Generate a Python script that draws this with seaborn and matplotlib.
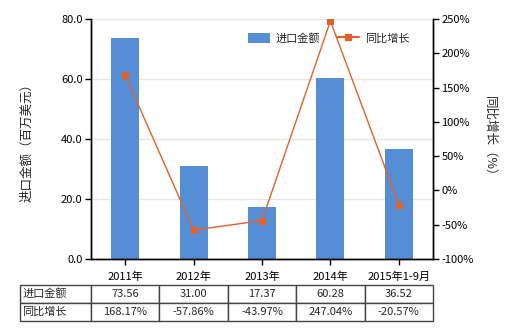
import matplotlib
matplotlib.use("Agg")
import matplotlib.pyplot as plt
import seaborn as sns
import pandas as pd
from matplotlib.patches import Patch
from matplotlib.lines import Line2D

categories = ["2011年", "2012年", "2013年", "2014年", "2015年1-9月"]
import_values = [73.56, 31.00, 17.37, 60.28, 36.52]
yoy_growth = [168.17, -57.86, -43.97, 247.04, -20.57]
row_labels = ["进口金额", "同比增长"]
value_texts = ["73.56", "31.00", "17.37", "60.28", "36.52"]
growth_texts = ["168.17%", "-57.86%", "-43.97%", "247.04%", "-20.57%"]

sns.set_theme(style="white")
plt.rcParams["font.family"] = ["Noto Sans CJK SC", "DejaVu Sans"]
plt.rcParams["axes.unicode_minus"] = False

bar_color = "#558ED5"
line_color = "#E0622A"

df = pd.DataFrame({"cat": categories, "val": import_values, "yoy": yoy_growth})

fig = plt.figure(figsize=(5.2, 3.3), dpi=100)
ax = fig.add_axes([91 / 520, 1 - 259 / 330, 342 / 520, 240 / 330])

sns.barplot(data=df, x="cat", y="val", ax=ax, color=bar_color, width=0.41,
            saturation=1, linewidth=0, zorder=2)
ax.set_ylim(0, 80)
ax.set_yticks([0, 20, 40, 60, 80])
ax.set_yticklabels([f"{v:.1f}" for v in [0, 20, 40, 60, 80]])
ax.yaxis.grid(True, color="#E6E6DE", lw=1, zorder=0)
ax.set_axisbelow(True)
ax.set_xlabel("")
ax.set_ylabel("进口金额（百万美元）", fontsize=9, labelpad=20)

ax2 = ax.twinx()
sns.pointplot(data=df, x="cat", y="yoy", ax=ax2, color=line_color,
              markers="s", linestyles="-", markersize=4, linewidth=1)
ax2.set_ylim(-100, 250)
ax2.set_yticks(range(-100, 251, 50))
ax2.set_yticklabels([f"{v}%" for v in range(-100, 251, 50)])
ax2.set_ylabel("同比增长（%）", fontsize=9, rotation=270, labelpad=16)
ax2.set_xlim(-0.5, 4.5)
ax.set_xlim(-0.5, 4.5)

for a in (ax, ax2):
    for s in a.spines.values():
        s.set_color("black")
        s.set_linewidth(1)
    a.spines["top"].set_visible(False)
    a.tick_params(axis="both", which="both", direction="out", length=4,
                  width=1, colors="black", labelsize=8, pad=2)
ax.tick_params(axis="x", bottom=True, length=4, pad=5)
ax2.set_xlabel("")

# table
cell_text = [[row_labels[0]] + value_texts, [row_labels[1]] + growth_texts]
w0 = 71 / 413
wc = (1 - w0) / 5
tbl = ax.table(cellText=cell_text, cellLoc="center",
               bbox=[-71 / 342, -62 / 240, 413 / 342, 36 / 240],
               colWidths=[w0] + [wc] * 5)
tbl.auto_set_font_size(False)
tbl.set_fontsize(8)
for (r, c), cell in tbl.get_celld().items():
    cell.set_edgecolor("#444444")
    cell.set_linewidth(1)
    if c == 0:
        cell.set_text_props(ha="left")
        cell.PAD = 0.03

handles = [Patch(facecolor=bar_color, edgecolor="none"),
           Line2D([0], [0], color=line_color, marker="s", markersize=4, lw=1.5)]
ax2.legend(handles, ["进口金额", "同比增长"], loc="upper left",
           bbox_to_anchor=(0.43, 0.985), ncol=2, frameon=False, fontsize=8,
           handlelength=2, handleheight=1.1, columnspacing=1.5,
           handletextpad=0.5)

fig.savefig("out.png", dpi=100)
